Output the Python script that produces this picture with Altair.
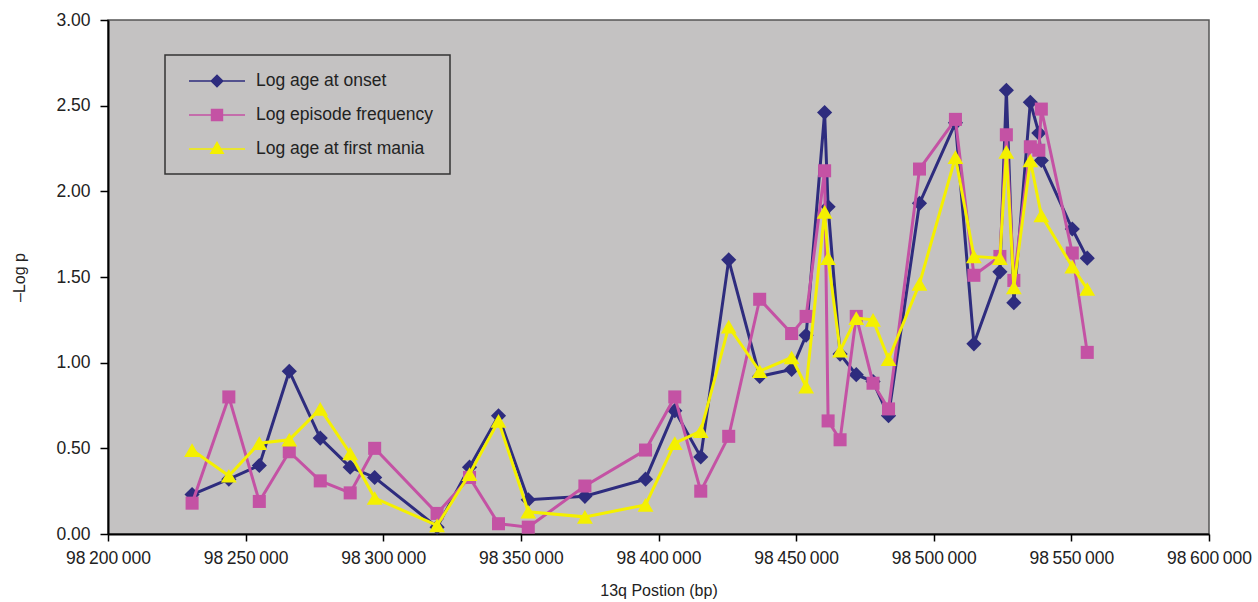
import altair as alt
import pandas as pd

# 13q positions (bp) of the markers
positions = [98230550, 98243900, 98254970, 98265860, 98277110, 98287990, 98296880,
             98319560, 98331350, 98341870, 98352690, 98373260, 98395290, 98405920,
             98415350, 98425510, 98436760, 98448370, 98453630, 98460350, 98461620,
             98465970, 98471850, 98477940, 98483570, 98494820, 98507880, 98514590,
             98524030, 98526380, 98529100, 98535090, 98538180, 98539080, 98550330,
             98555770]

age_onset = [0.23, 0.32, 0.40, 0.95, 0.56, 0.39, 0.33, 0.04, 0.39, 0.69, 0.20, 0.22,
             0.32, 0.72, 0.45, 1.60, 0.92, 0.96, 1.16, 2.46, 1.91, 1.05, 0.93, 0.89,
             0.69, 1.93, 2.40, 1.11, 1.53, 2.59, 1.35, 2.52, 2.34, 2.18, 1.78, 1.61]

episode_freq = [0.18, 0.80, 0.19, 0.48, 0.31, 0.24, 0.50, 0.12, 0.33, 0.06, 0.04, 0.28,
                0.49, 0.80, 0.25, 0.57, 1.37, 1.17, 1.27, 2.12, 0.66, 0.55, 1.27, 0.88,
                0.73, 2.13, 2.42, 1.51, 1.62, 2.33, 1.48, 2.26, 2.24, 2.48, 1.64, 1.06]

first_mania = [0.49, 0.34, 0.53, 0.55, 0.73, 0.47, 0.21, 0.05, 0.35, 0.66, 0.13, 0.10,
               0.17, 0.53, 0.60, 1.21, 0.95, 1.03, 0.86, 1.88, 1.61, 1.07, 1.26, 1.25,
               1.02, 1.46, 2.20, 1.62, 1.61, 2.23, 1.44, 2.18, None, 1.86, 1.56, 1.43]

series_names = ["Log age at onset", "Log episode frequency", "Log age at first mania"]
series_colors = ["#2E2C7E", "#C452A4", "#F4F000"]
marker_shapes = ["diamond", "square", "triangle-up"]
marker_sizes = [230, 170, 250]
legend_paths = [
    "M-2.8,-0.07H2.8V0.07H-2.8Z M0,-0.68L0.68,0L0,0.68L-0.68,0Z",
    "M-2.8,-0.07H2.8V0.07H-2.8Z M-0.62,-0.62H0.62V0.62H-0.62Z",
    "M-2.8,-0.07H2.8V0.07H-2.8Z M0,-0.8L0.75,0.5H-0.75Z",
]

x_ticks = list(range(98200000, 98600001, 50000))
y_ticks = [0, 0.5, 1.0, 1.5, 2.0, 2.5, 3.0]

rows = []
for name, vals in zip(series_names, [age_onset, episode_freq, first_mania]):
    for p, v in zip(positions, vals):
        if v is not None:
            rows.append({"pos": p, "logp": v, "series": name})
df = pd.DataFrame(rows)

FONT = "Liberation Sans"
color_scale = alt.Scale(domain=series_names, range=series_colors)

legend_props = dict(
    title=None,
    orient="none",
    legendX=57,
    legendY=35,
    fillColor="#C4C2C2",
    strokeColor="#333333",
    padding=16,
    symbolSize=400,
    symbolStrokeWidth=0,
    symbolOpacity=1,
    symbolOffset=26,
    labelOffset=29,
    rowPadding=15,
    labelLimit=0,
    labelFont=FONT,
    labelFontSize=17.5,
    labelColor="#222222",
)
legend = alt.Legend(**legend_props)

x_enc = alt.X(
    "pos:Q",
    scale=alt.Scale(domain=[98200000, 98600000], nice=False, zero=False),
    axis=alt.Axis(
        values=x_ticks,
        labelExpr="replace(format(datum.value, ','), regexp(',', 'g'), '\u2009')",
        title="13q Postion (bp)",
        labelFlush=False,
        labelOverlap=False,
        tickSize=7,
        labelPadding=8,
        titlePadding=16,
    ),
)
y_enc = alt.Y(
    "logp:Q",
    scale=alt.Scale(domain=[0, 3], nice=False),
    axis=alt.Axis(
        values=y_ticks,
        format=".2f",
        title="\u2013Log p",
        tickSize=8,
        labelPadding=10,
        titlePadding=28,
    ),
)

layers = []
for name, shape, size in zip(series_names, marker_shapes, marker_sizes):
    base = alt.Chart(df).transform_filter(alt.datum.series == name).encode(
        x=x_enc,
        y=y_enc,
        color=alt.Color("series:N", scale=color_scale, legend=legend),
    )
    layers.append(base.mark_line(strokeWidth=3))
    layers.append(base.mark_point(shape=shape, size=size, filled=True, opacity=1))

legend_layer = (
    alt.Chart(df)
    .mark_point(filled=True, opacity=0)
    .encode(
        x=x_enc,
        y=y_enc,
        color=alt.Color("series:N", scale=color_scale, legend=legend),
        shape=alt.Shape(
            "series:N",
            scale=alt.Scale(domain=series_names, range=legend_paths),
            legend=legend,
        ),
    )
)

chart = (
    alt.layer(*layers, legend_layer)
    .properties(
        width=1101,
        height=514,
        autosize=alt.AutoSizeParams(type="none"),
        padding={"left": 108, "top": 20, "right": 49, "bottom": 68},
        background="white",
    )
    .configure_view(fill="#C4C2C2", stroke="#555555", strokeWidth=1.5)
    .configure_axis(
        grid=False,
        domainColor="black",
        domainWidth=2,
        tickColor="black",
        tickWidth=1.5,
        labelFont=FONT,
        labelFontSize=17.5,
        labelColor="#222222",
        titleFont=FONT,
        titleFontSize=16,
        titleFontWeight="normal",
        titleColor="#222222",
    )
    .configure_legend(strokeWidth=1.5)
)

chart.save("out.html", embed_options={"renderer": "svg", "actions": False})
